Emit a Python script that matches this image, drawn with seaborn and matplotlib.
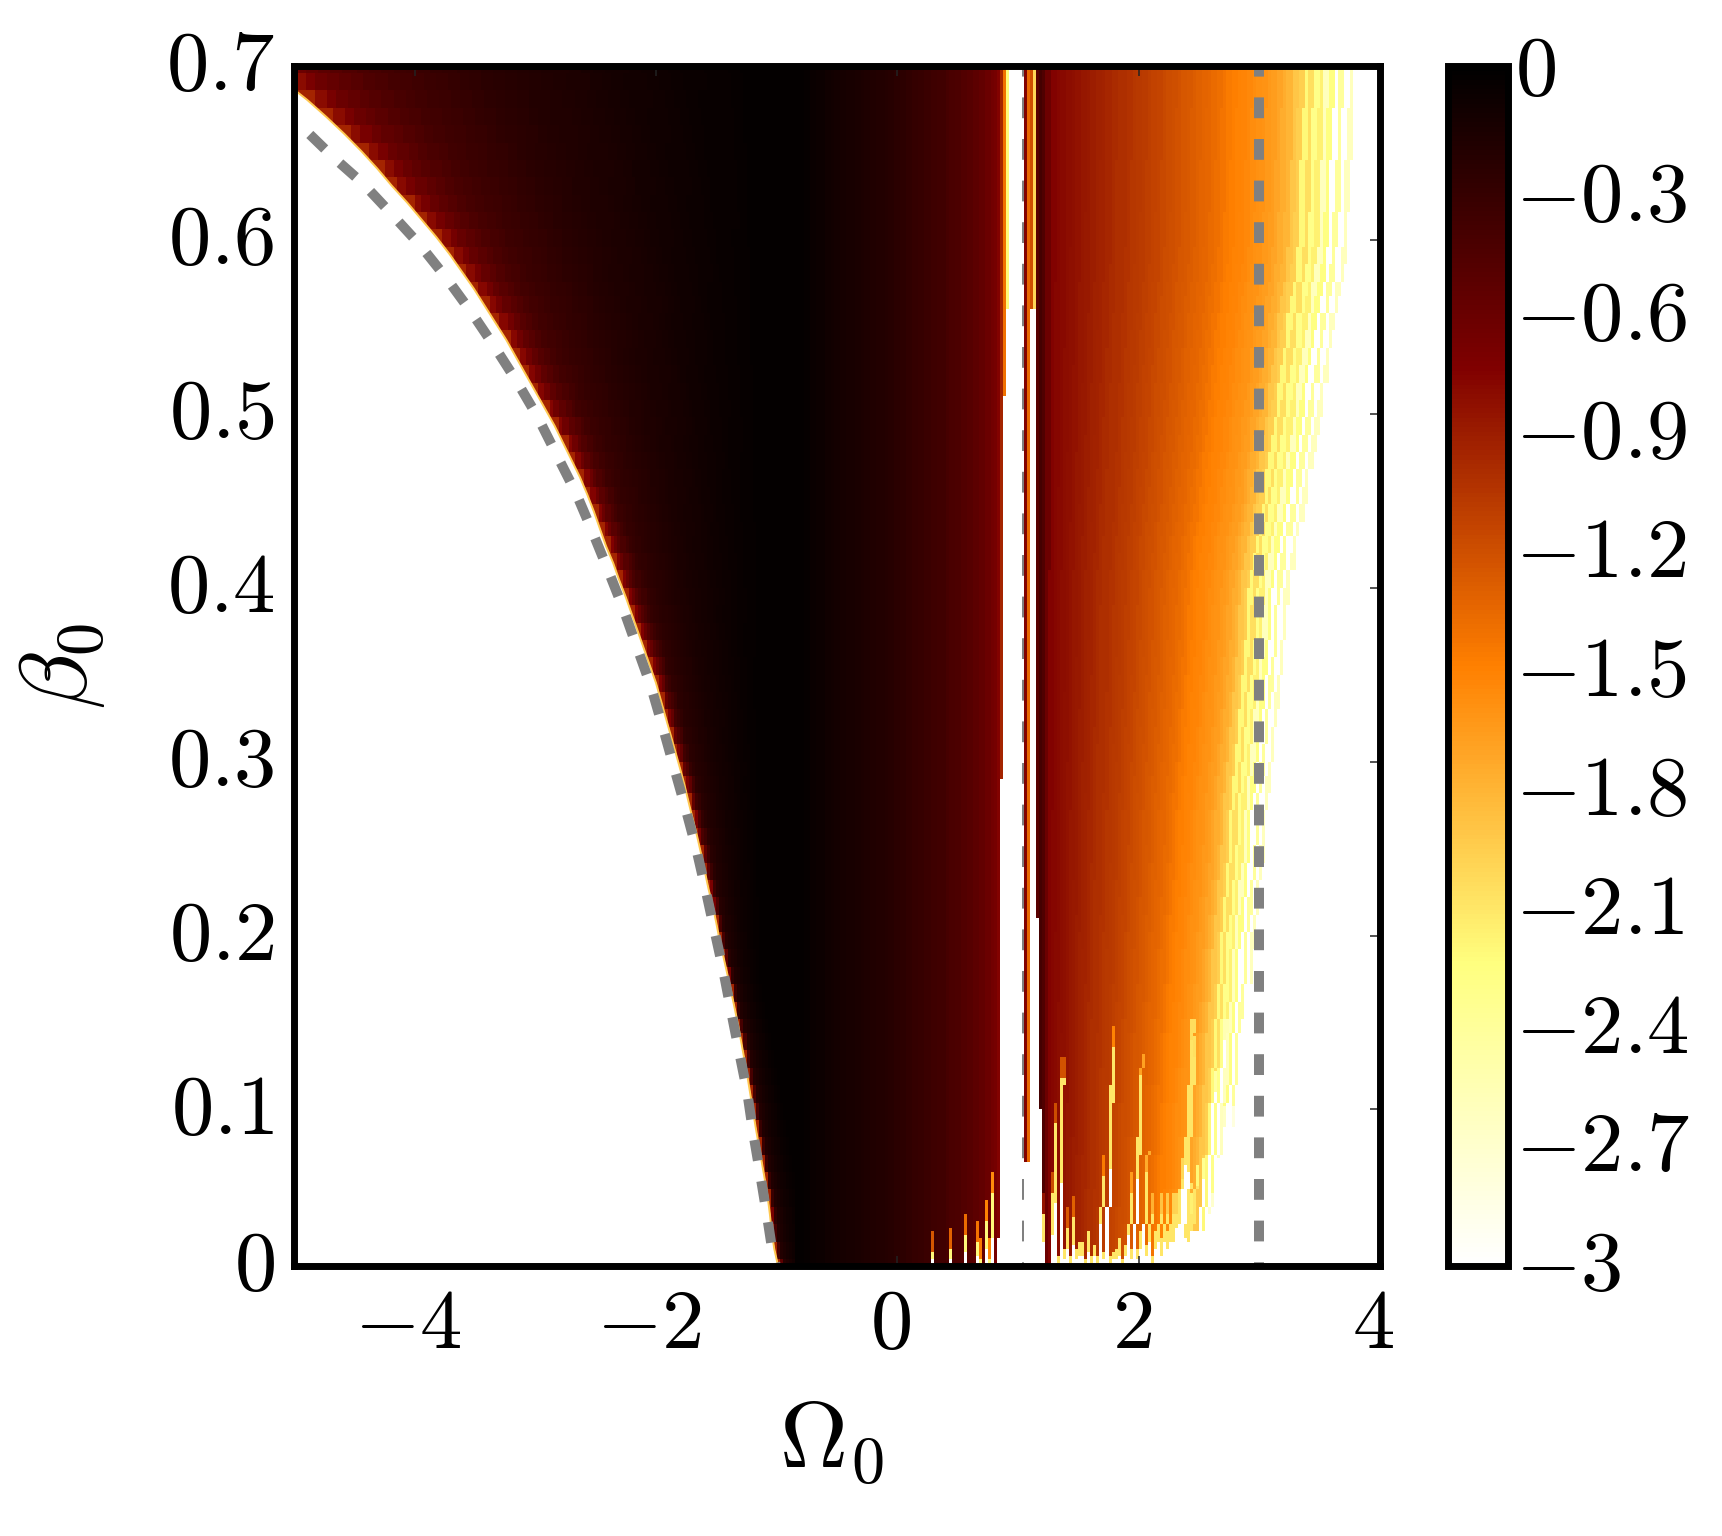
import numpy as np
import pandas as pd
import matplotlib
matplotlib.use("Agg")
import matplotlib.pyplot as plt
from matplotlib.transforms import ScaledTranslation
import seaborn as sns

# --- values ---

# the lower axis limit is not 0: the tick labelled 0 sits at about 0.01
beta_min = 0.01
beta_max = 0.7

# field edge on the left, one value per step above beta_min
edge_step = 0.00986
left_edge = [-0.988, -1.020, -1.041, -1.056, -1.074, -1.097, -1.122, -1.147, -1.172, -1.195,
             -1.218, -1.241, -1.266, -1.292, -1.318, -1.347, -1.377, -1.408, -1.440, -1.473,
             -1.500, -1.530, -1.565, -1.595, -1.625, -1.657, -1.693, -1.728, -1.762, -1.800,
             -1.840, -1.880, -1.920, -1.960, -2.000, -2.050, -2.100, -2.150, -2.200, -2.250,
             -2.305, -2.355, -2.415, -2.465, -2.515, -2.570, -2.630, -2.700, -2.770, -2.840,
             -2.920, -3.000, -3.080, -3.160, -3.240, -3.330, -3.420, -3.510, -3.610, -3.710,
             -3.820, -3.940, -4.060, -4.190, -4.310, -4.440, -4.580, -4.730, -4.890, -5.070, -5.270]

# how strong the red band next to that edge is, same steps
left_depth = [0.40] * 21 + [0.41, 0.42, 0.43, 0.44, 0.45, 0.46, 0.47, 0.48, 0.49, 0.50,
                            0.51, 0.52, 0.53, 0.54, 0.55, 0.56, 0.57, 0.58, 0.59, 0.60,
                            0.61, 0.62, 0.64, 0.65, 0.66, 0.68, 0.69, 0.70, 0.72, 0.73,
                            0.74, 0.75, 0.77, 0.78, 0.79, 0.81, 0.82, 0.83, 0.85, 0.86,
                            0.87, 0.88, 0.90, 0.91, 0.92, 0.94, 0.95, 0.96, 0.98, 0.99]

# how far the right hand streaks fan out, same steps
fan_spread = [1.00, 1.01, 1.01, 1.02, 1.03, 1.04, 1.04, 1.05, 1.06, 1.06,
              1.07, 1.08, 1.09, 1.09, 1.10, 1.11, 1.12, 1.13, 1.13, 1.14,
              1.15, 1.16, 1.17, 1.18, 1.19, 1.20, 1.20, 1.21, 1.22, 1.23,
              1.24, 1.25, 1.26, 1.27, 1.28, 1.29, 1.30, 1.31, 1.31, 1.32,
              1.33, 1.35, 1.36, 1.38, 1.40, 1.42, 1.43, 1.45, 1.47, 1.48,
              1.50, 1.51, 1.53, 1.54, 1.56, 1.57, 1.59, 1.60, 1.62, 1.63,
              1.64, 1.64, 1.65, 1.65, 1.65, 1.66, 1.66, 1.66, 1.67, 1.67, 1.67]

# log value against relative distance from the left edge, step 0.025
band_step = 0.025
band_values = [-0.95, -0.80, -0.70, -0.62, -0.57, -0.53, -0.49, -0.45, -0.42, -0.39,
               -0.37, -0.35, -0.33, -0.31, -0.29, -0.27, -0.25, -0.235, -0.22, -0.205,
               -0.19, -0.18, -0.17, -0.16, -0.15, -0.14, -0.125, -0.11, -0.10, -0.09,
               -0.08, -0.07, -0.06, -0.05, -0.04, -0.03, -0.025, -0.02, -0.01, -0.005, 0.0]

# log value in the dark middle, Omega -0.85 to 0.85, step 0.05
mid_start = -0.85
mid_step = 0.05
mid_values = [0.0, -0.005, -0.015, -0.03, -0.05, -0.065, -0.08, -0.09, -0.105, -0.115,
              -0.13, -0.14, -0.155, -0.165, -0.18, -0.19, -0.205, -0.22, -0.24, -0.26,
              -0.28, -0.30, -0.32, -0.34, -0.36, -0.385, -0.41, -0.43, -0.46, -0.49,
              -0.52, -0.55, -0.60, -0.65, -0.68]

# spikes at the bottom of the middle, height they reach, Omega 0.25 to 0.8, step 0.025
spike_start = 0.25
spike_floor = [0.0, 0.008, 0.0, 0.0, 0.0, 0.0, 0.0, 0.010, 0.0, 0.0,
               0.0, 0.0, 0.018, 0.0, 0.0, 0.0, 0.014, 0.003, 0.0, 0.025,
               0.003, 0.042, 0.0, 0.0]

# columns around the white gap, Omega 0.8 to 1.175, step 0.025
gap_start = 0.8
gap_values = [-0.68, -0.75, -0.95, -1.4, -2.2, np.nan, np.nan, np.nan, np.nan, np.nan,
              -0.75, -1.35, -1.2, -2.0, -0.5, -0.38]
gap_floor = [0.0, 0.015, 0.28, 0.50, 0.55, 1.0, 1.0, 1.0, 1.0, 1.0,
             0.06, 0.06, 0.55, 0.55, 0.20, 0.09]

# right hand streaks at beta near 0, Omega 1.2 to 2.75, step 0.025
right_start = 1.2
column_step = 0.025
right_values = [-0.45, -0.62, -0.75, -0.77, -0.78, -0.80, -0.82, -0.84, -0.86, -0.87,
                -0.90, -0.92, -0.94, -0.96, -0.98, -1.00, -1.01, -1.03, -1.05, -1.06,
                -1.08, -1.10, -1.12, -1.14, -1.16, -1.18, -1.20, -1.22, -1.24, -1.26,
                -1.28, -1.30, -1.32, -1.34, -1.36, -1.38, -1.42, -1.45, -1.48, -1.50,
                -1.52, -1.54, -1.56, -1.58, -1.60, -1.63, -1.66, -1.70, -1.75, -1.80,
                -1.90, -1.95, -2.20, -2.05, -2.30, -2.15, -2.60, -2.25, np.nan, -2.40,
                np.nan, -2.60, np.nan]
right_floor = [0.030, 0.0, 0.0, 0.042, 0.081, 0.005, 0.108, 0.010, 0.022, 0.006,
               0.028, 0.010, 0.013, 0.013, 0.004, 0.019, 0.005, 0.012, 0.006, 0.052,
               0.008, 0.126, 0.006, 0.008, 0.010, 0.015, 0.004, 0.012, 0.042, 0.010,
               0.110, 0.010, 0.020, 0.054, 0.012, 0.030, 0.006, 0.020, 0.030, 0.015,
               0.030, 0.020, 0.030, 0.030, 0.050, 0.130, 0.120, 0.035, 0.030, 0.045,
               0.020, 0.050, 0.020, 0.100, 0.030, 0.130, 0.050, 0.080, 0.060, 0.080,
               0.120, 0.150, 0.200]

# thick grey curve on the left
curve_omega = [-5.004, -4.913, -4.680, -4.423, -4.183, -3.950, -3.734, -3.527, -3.336, -3.154,
               -2.979, -2.822, -2.664, -2.531, -2.398, -2.274, -2.158, -2.041, -1.942, -1.851,
               -1.759, -1.668, -1.593, -1.519, -1.444, -1.378, -1.311, -1.245, -1.195, -1.137,
               -1.079, -1.029, -1.004, -0.975]
curve_beta = [0.6692, 0.6636, 0.6479, 0.6321, 0.6143, 0.5966, 0.5778, 0.5581, 0.5384, 0.5187,
              0.4980, 0.4763, 0.4546, 0.4329, 0.4102, 0.3885, 0.3658, 0.3431, 0.3194, 0.2968,
              0.2741, 0.2504, 0.2277, 0.2041, 0.1804, 0.1567, 0.1331, 0.1104, 0.0867, 0.0630,
              0.0384, 0.0157, 0.0098, 0.0]

# the two straight dashed lines
thick_omega = [3.0, 3.0]
thin_omega = [1.044, 1.044]
line_beta = [0.0, 0.7]

x_ticks = [-4, -2, 0, 2, 4]
x_labels = ["$-4$", "$-2$", "$0$", "$2$", "$4$"]
y_ticks = [beta_min, 0.1, 0.2, 0.3, 0.4, 0.5, 0.6, 0.7]
y_labels = ["$0$", "$0.1$", "$0.2$", "$0.3$", "$0.4$", "$0.5$", "$0.6$", "$0.7$"]
cbar_ticks = [-3, -2.7, -2.4, -2.1, -1.8, -1.5, -1.2, -0.9, -0.6, -0.3, 0.018]
cbar_labels = ["$-3$", "$-2.7$", "$-2.4$", "$-2.1$", "$-1.8$", "$-1.5$", "$-1.2$",
               "$-0.9$", "$-0.6$", "$-0.3$", "$0$"]

# --- build the table for the heatmap ---

omega_min, omega_max = -5.0, 4.0
row_step = 0.002
n_cols = int(round((omega_max - omega_min) / column_step))
n_rows = int(round((beta_max - beta_min) / row_step))


def cell_value(omega, height):
    # height is beta above the lower axis limit
    level = int(round(height / edge_step))

    if omega < mid_start:
        edge = left_edge[level]
        if omega < edge:
            return band_values[0]
        u = (omega - edge) / max(-1.15 - edge, 0.25)
        if u >= 1:
            return 0.0
        idx = int(round(u / band_step))
        return band_values[idx] * left_depth[level] ** min(1.0, idx / 6)

    if omega < gap_start:
        value = mid_values[int(round((omega - mid_start) / mid_step))]
        if omega >= spike_start:
            k = int(round((omega - spike_start) / column_step))
            floor = spike_floor[k]
            if height < floor * 0.4:
                return np.nan
            if height < floor:
                return -2.2
            if floor > 0 and height < floor + 0.012:
                return value - 0.9
        return value

    if omega < right_start:
        k = int(round((omega - gap_start) / column_step))
        if height < gap_floor[k]:
            return np.nan
        return gap_values[k]

    k = int(round((omega - right_start) / fan_spread[level] / column_step))
    if k >= len(right_values):
        return np.nan
    floor = right_floor[k]
    if height < floor * 0.45:
        return np.nan
    if height < floor:
        return -2.1 if k < 50 else np.nan
    if height < floor + 0.012 and floor > 0.02:
        return right_values[k] - 0.4
    return right_values[k]


grid = np.full((n_rows, n_cols), np.nan)
for i in range(n_rows):
    height = (beta_max - beta_min) - row_step * (i + 0.5)
    for j in range(n_cols):
        grid[i, j] = cell_value(omega_min + column_step * j, height)
field = pd.DataFrame(grid)

# --- figure ---

sns.set_theme(style="white")
plt.rcParams["mathtext.fontset"] = "cm"
plt.rcParams["font.family"] = "DejaVu Sans"
plt.rcParams["text.color"] = "black"
plt.rcParams["axes.labelcolor"] = "black"
plt.rcParams["xtick.labelcolor"] = "black"
plt.rcParams["ytick.labelcolor"] = "black"

FIG_W, FIG_H = 1722, 1536
LABEL_SIZE = 61
SPINE_W = 5.0

fig = plt.figure(figsize=(FIG_W / 100, FIG_H / 100), dpi=100, facecolor="white")
rect = [294 / FIG_W, 1 - 1266 / FIG_H, (1380 - 294) / FIG_W, 1200 / FIG_H]

ax_map = fig.add_axes(rect)
cax = fig.add_axes([1447.5 / FIG_W, 1 - 1266 / FIG_H, 60 / FIG_W, 1200 / FIG_H])
sns.heatmap(field, ax=ax_map, cbar_ax=cax, cmap="afmhot_r", vmin=-3, vmax=0.03,
            xticklabels=False, yticklabels=False, rasterized=True)
ax_map.set_xlabel("")
ax_map.set_ylabel("")
ax_map.tick_params(left=False, bottom=False)
for spine in ax_map.spines.values():
    spine.set_visible(False)

# real axes sit on top of the heatmap
edge_beta = beta_min + np.arange(len(left_edge)) * edge_step
ax = fig.add_axes(rect, facecolor="none")
ax.fill_betweenx(edge_beta, omega_min - 1, left_edge, color="white", lw=0, zorder=1.5)
sns.lineplot(x=left_edge, y=edge_beta, color="#ffc850", lw=1.4,
             sort=False, estimator=None, errorbar=None, ax=ax, zorder=1.6)
sns.lineplot(x=curve_omega[::-1], y=curve_beta[::-1], color="#808080", lw=7.2,
             linestyle=(0.0, (2.08, 2.08)), dash_capstyle="butt",
             sort=False, estimator=None, errorbar=None, ax=ax, zorder=2)
sns.lineplot(x=thick_omega, y=line_beta, color="#808080", lw=7.2,
             linestyle=(0.0, (2.08, 2.08)), dash_capstyle="butt",
             sort=False, estimator=None, errorbar=None, ax=ax, zorder=2)
sns.lineplot(x=thin_omega, y=line_beta, color="#808080", lw=1.44,
             linestyle=(0.0, (10.4, 10.4)), dash_capstyle="butt",
             sort=False, estimator=None, errorbar=None, ax=ax, zorder=2)

ax.set_xlim(omega_min, omega_max)
ax.set_ylim(beta_min, beta_max)
ax.set_xticks(x_ticks)
ax.set_xticklabels(x_labels, fontsize=LABEL_SIZE)
ax.set_yticks(y_ticks)
ax.set_yticklabels(y_labels, fontsize=LABEL_SIZE)
ax.tick_params(axis="both", which="major", direction="in", length=7.2, width=1.1,
               top=True, right=True, bottom=True, left=True, color="#222222")
ax.tick_params(axis="x", pad=12)
ax.tick_params(axis="y", pad=14)
ax.set_xlabel(r"$\Omega_0$", fontsize=LABEL_SIZE + 7, labelpad=21)
ax.set_ylabel(r"$\beta_0$", fontsize=LABEL_SIZE + 7, labelpad=42)
ax.xaxis.label.set_x(0.495)
for spine in ax.spines.values():
    spine.set_visible(True)
    spine.set_color("black")
    spine.set_linewidth(SPINE_W)
    spine.set_zorder(5)

cbar = ax_map.collections[0].colorbar
cbar.set_ticks(cbar_ticks)
cbar.set_ticklabels(cbar_labels)
cbar.ax.tick_params(axis="y", direction="in", length=7.9, width=1.1, right=True,
                    labelsize=LABEL_SIZE, pad=5.5, color="#222222")
cbar.outline.set_edgecolor("black")
cbar.outline.set_linewidth(SPINE_W)

# mathtext sits a little low against its tick
shift_up = ScaledTranslation(0, 6 / 72, fig.dpi_scale_trans)
for label in ax.get_yticklabels() + cbar.ax.get_yticklabels():
    label.set_transform(label.get_transform() + shift_up)
shift_left = ScaledTranslation(-5 / 72, 0, fig.dpi_scale_trans)
for label in ax.get_xticklabels():
    label.set_transform(label.get_transform() + shift_left)

fig.savefig("out.png", dpi=100, facecolor="white")
